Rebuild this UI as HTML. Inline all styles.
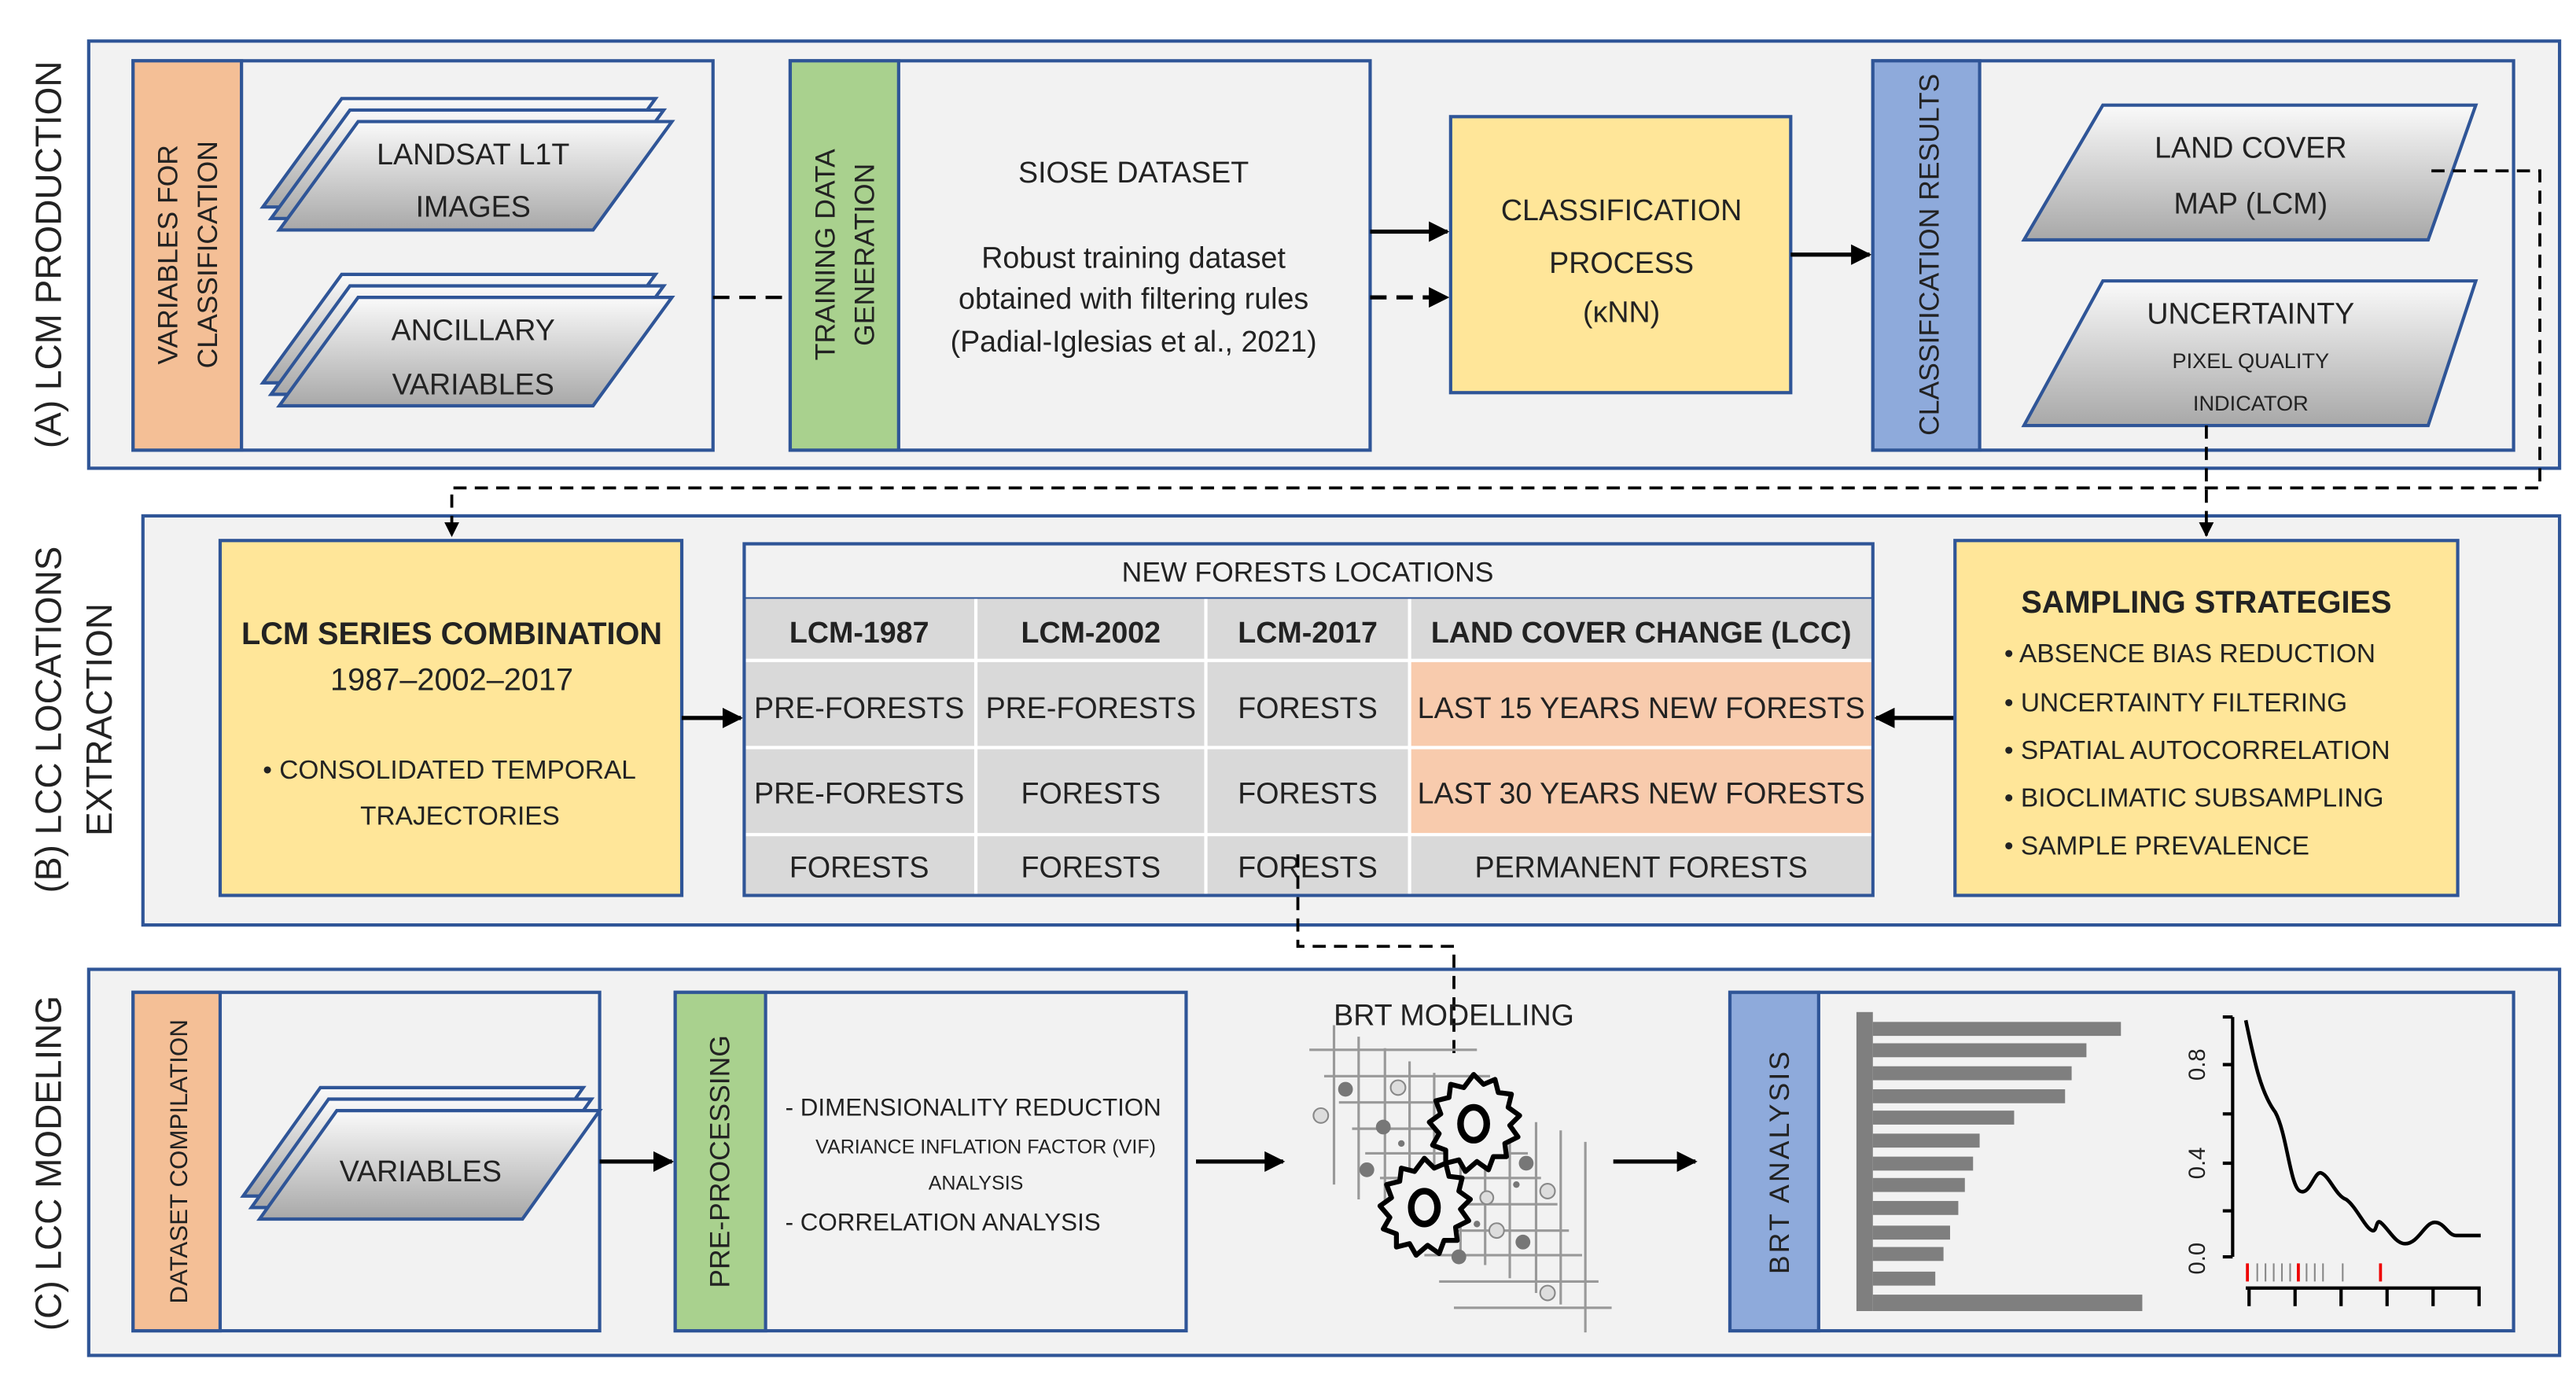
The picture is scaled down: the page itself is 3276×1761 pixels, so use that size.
<!DOCTYPE html>
<html><head><meta charset="utf-8"><style>
html,body{margin:0;padding:0;background:#fff;}
svg{display:block;}
text{font-family:"Liberation Sans Narrow","Liberation Sans",sans-serif;fill:#222;}
.w{font-family:"Liberation Sans",sans-serif;}
</style></head><body>
<svg width="3276" height="1761" viewBox="0 0 1568 843" preserveAspectRatio="none" xmlns="http://www.w3.org/2000/svg">
<defs>
<linearGradient id="g" x1="0" y1="0" x2="0" y2="1"><stop offset="0" stop-color="#fafafa"/><stop offset="1" stop-color="#a8a8a8"/></linearGradient>
<marker id="ar" viewBox="0 0 10 10" refX="9" refY="5" markerWidth="5" markerHeight="5" orient="auto"><path d="M0,0L10,5L0,10z" fill="#000"/></marker>
<g id="para"><path d="M48,0H239L191,66H0Z" fill="url(#g)" stroke="#2f5597" stroke-width="2"/></g>
<g id="vpara"><path d="M47,0H207L160,66H0Z" fill="url(#g)" stroke="#2f5597" stroke-width="2"/></g>
<g id="gear"><path d="M0,-30 L6,-24 L13,-27 L15,-19 L23,-18 L21,-10 L28,-5 L22,1 L27,8 L19,12 L20,20 L12,20 L9,28 L2,23 L-5,29 L-9,22 L-17,24 L-17,16 L-25,13 L-21,6 L-27,-1 L-20,-6 L-23,-14 L-15,-16 L-14,-24 L-6,-22 Z" fill="#f2f2f2" stroke="#000" stroke-width="3" stroke-linejoin="round"/><ellipse cx="0" cy="0" rx="8" ry="10" fill="none" stroke="#000" stroke-width="4"/></g>
</defs>
<rect width="1568" height="843" fill="#fff"/>
<!-- section A -->
<rect x="54" y="25" width="1504" height="260" fill="#f2f2f2" stroke="#2f5597" stroke-width="2"/>
<text class="w" transform="translate(37,155) rotate(-90)" text-anchor="middle" font-size="22">(A) LCM PRODUCTION</text>
<rect x="81" y="37" width="353" height="237" fill="#f2f2f2" stroke="#2f5597" stroke-width="2"/>
<rect x="81" y="37" width="66" height="237" fill="#f4bf96" stroke="#2f5597" stroke-width="2"/>
<text class="w" transform="translate(108,155) rotate(-90)" text-anchor="middle" font-size="17">VARIABLES FOR</text>
<text class="w" transform="translate(132,155) rotate(-90)" text-anchor="middle" font-size="17">CLASSIFICATION</text>
<use href="#para" transform="translate(160,60)"/><use href="#para" transform="translate(165,67)"/><use href="#para" transform="translate(170,74)"/>
<text x="288" y="100" text-anchor="middle" font-size="18">LANDSAT L1T</text>
<text x="288" y="132" text-anchor="middle" font-size="18">IMAGES</text>
<use href="#para" transform="translate(160,167)"/><use href="#para" transform="translate(165,174)"/><use href="#para" transform="translate(170,181)"/>
<text x="288" y="207" text-anchor="middle" font-size="18">ANCILLARY</text>
<text x="288" y="240" text-anchor="middle" font-size="18">VARIABLES</text>
<line x1="434" y1="181" x2="480" y2="181" stroke="#000" stroke-width="2" stroke-dasharray="10,6"/>
<rect x="481" y="37" width="353" height="237" fill="#f2f2f2" stroke="#2f5597" stroke-width="2"/>
<rect x="481" y="37" width="66" height="237" fill="#a9d18e" stroke="#2f5597" stroke-width="2"/>
<text class="w" transform="translate(508,155) rotate(-90)" text-anchor="middle" font-size="17">TRAINING DATA</text>
<text class="w" transform="translate(532,155) rotate(-90)" text-anchor="middle" font-size="17">GENERATION</text>
<text x="690" y="111" text-anchor="middle" font-size="18">SIOSE DATASET</text>
<text x="690" y="163" text-anchor="middle" font-size="18">Robust training dataset</text>
<text x="690" y="188" text-anchor="middle" font-size="18">obtained with filtering rules</text>
<text x="690" y="214" text-anchor="middle" font-size="18">(Padial-Iglesias et al., 2021)</text>
<line x1="834" y1="141" x2="881" y2="141" stroke="#000" stroke-width="2.5" marker-end="url(#ar)"/>
<line x1="834" y1="181" x2="881" y2="181" stroke="#000" stroke-width="2.5" stroke-dasharray="10,6" marker-end="url(#ar)"/>
<rect x="883" y="71" width="207" height="168" fill="#ffe699" stroke="#2f5597" stroke-width="2"/>
<text x="987" y="134" text-anchor="middle" font-size="18">CLASSIFICATION</text>
<text x="987" y="166" text-anchor="middle" font-size="18">PROCESS</text>
<text x="987" y="196" text-anchor="middle" font-size="18">(κNN)</text>
<line x1="1090" y1="155" x2="1138" y2="155" stroke="#000" stroke-width="2.5" marker-end="url(#ar)"/>
<rect x="1140" y="37" width="390" height="237" fill="#f2f2f2" stroke="#2f5597" stroke-width="2"/>
<rect x="1140" y="37" width="65" height="237" fill="#8eaadb" stroke="#2f5597" stroke-width="2"/>
<text class="w" transform="translate(1180,155) rotate(-90)" text-anchor="middle" font-size="17">CLASSIFICATION RESULTS</text>
<path d="M1280,64H1507L1478,146H1232Z" fill="url(#g)" stroke="#2f5597" stroke-width="2"/>
<text x="1370" y="96" text-anchor="middle" font-size="18">LAND COVER</text>
<text x="1370" y="130" text-anchor="middle" font-size="18">MAP (LCM)</text>
<path d="M1280,171H1507L1478,259H1232Z" fill="url(#g)" stroke="#2f5597" stroke-width="2"/>
<text x="1370" y="197" text-anchor="middle" font-size="18">UNCERTAINTY</text>
<text x="1370" y="224" text-anchor="middle" font-size="13">PIXEL QUALITY</text>
<text x="1370" y="250" text-anchor="middle" font-size="13">INDICATOR</text>
<!-- section B -->
<rect x="87" y="314" width="1471" height="249" fill="#f2f2f2" stroke="#2f5597" stroke-width="2"/>
<path d="M1480,104H1546V297H275V326" fill="none" stroke="#000" stroke-width="1.8" stroke-dasharray="8,5" marker-end="url(#ar)"/>
<path d="M1343,259V326" fill="none" stroke="#000" stroke-width="1.8" stroke-dasharray="8,5" marker-end="url(#ar)"/>
<text class="w" transform="translate(37,438) rotate(-90)" text-anchor="middle" font-size="22">(B) LCC LOCATIONS</text>
<text class="w" transform="translate(68,438) rotate(-90)" text-anchor="middle" font-size="22">EXTRACTION</text>
<rect x="134" y="329" width="281" height="216" fill="#ffe699" stroke="#2f5597" stroke-width="2"/>
<text x="275" y="392" text-anchor="middle" font-size="19" font-weight="bold">LCM SERIES COMBINATION</text>
<text x="275" y="420" text-anchor="middle" font-size="19">1987–2002–2017</text>
<text x="160" y="474" font-size="16">•  CONSOLIDATED TEMPORAL</text>
<text x="280" y="502" text-anchor="middle" font-size="16">TRAJECTORIES</text>
<line x1="415" y1="437" x2="451" y2="437" stroke="#000" stroke-width="2.5" marker-end="url(#ar)"/>
<rect x="453" y="331" width="687" height="214" fill="#f2f2f2" stroke="#2f5597" stroke-width="2"/>
<rect x="454" y="364" width="685" height="180" fill="#d9d9d9"/>
<rect x="858" y="402" width="281" height="106" fill="#f8cbad"/>
<g stroke="#fff" stroke-width="2"><line x1="454" y1="402" x2="1139" y2="402"/><line x1="454" y1="455" x2="1139" y2="455"/><line x1="454" y1="508" x2="1139" y2="508"/><line x1="594" y1="364" x2="594" y2="544"/><line x1="734" y1="364" x2="734" y2="544"/><line x1="858" y1="364" x2="858" y2="544"/></g>
<line x1="453" y1="364" x2="1140" y2="364" stroke="#2f5597" stroke-width="1"/>
<text x="796" y="354" text-anchor="middle" font-size="17">NEW FORESTS LOCATIONS</text>
<g font-size="18" text-anchor="middle">
<text x="523" y="391" font-weight="bold">LCM-1987</text><text x="664" y="391" font-weight="bold">LCM-2002</text><text x="796" y="391" font-weight="bold">LCM-2017</text><text x="999" y="391" font-weight="bold">LAND COVER CHANGE (LCC)</text>
<text x="523" y="437">PRE-FORESTS</text><text x="664" y="437">PRE-FORESTS</text><text x="796" y="437">FORESTS</text><text x="999" y="437">LAST 15 YEARS NEW FORESTS</text>
<text x="523" y="489">PRE-FORESTS</text><text x="664" y="489">FORESTS</text><text x="796" y="489">FORESTS</text><text x="999" y="489">LAST 30 YEARS NEW FORESTS</text>
<text x="523" y="534">FORESTS</text><text x="664" y="534">FORESTS</text><text x="796" y="534">FORESTS</text><text x="999" y="534">PERMANENT FORESTS</text>
</g>
<line x1="1190" y1="437" x2="1142" y2="437" stroke="#000" stroke-width="2.5" marker-end="url(#ar)"/>
<rect x="1190" y="329" width="306" height="216" fill="#ffe699" stroke="#2f5597" stroke-width="2"/>
<text x="1343" y="373" text-anchor="middle" font-size="19" font-weight="bold">SAMPLING STRATEGIES</text>
<g font-size="16"><text x="1220" y="403">•  ABSENCE BIAS REDUCTION</text><text x="1220" y="433">•  UNCERTAINTY FILTERING</text><text x="1220" y="462">•  SPATIAL AUTOCORRELATION</text><text x="1220" y="491">•  BIOCLIMATIC SUBSAMPLING</text><text x="1220" y="520">•  SAMPLE PREVALENCE</text></g>
<!-- section C -->
<rect x="54" y="590" width="1504" height="235" fill="#f2f2f2" stroke="#2f5597" stroke-width="2"/>
<path d="M790,520V576H885V646" fill="none" stroke="#000" stroke-width="1.8" stroke-dasharray="8,5"/>
<text class="w" transform="translate(37,708) rotate(-90)" text-anchor="middle" font-size="22">(C) LCC MODELING</text>
<rect x="81" y="604" width="284" height="206" fill="#f2f2f2" stroke="#2f5597" stroke-width="2"/>
<rect x="81" y="604" width="53" height="206" fill="#f4bf96" stroke="#2f5597" stroke-width="2"/>
<text class="w" transform="translate(114,707) rotate(-90)" text-anchor="middle" font-size="15">DATASET COMPILATION</text>
<use href="#vpara" transform="translate(148,662)"/><use href="#vpara" transform="translate(153,669)"/><use href="#vpara" transform="translate(158,676)"/>
<text x="256" y="719" text-anchor="middle" font-size="18">VARIABLES</text>
<line x1="365" y1="707" x2="409" y2="707" stroke="#000" stroke-width="2.5" marker-end="url(#ar)"/>
<rect x="411" y="604" width="311" height="206" fill="#f2f2f2" stroke="#2f5597" stroke-width="2"/>
<rect x="411" y="604" width="55" height="206" fill="#a9d18e" stroke="#2f5597" stroke-width="2"/>
<text class="w" transform="translate(444,707) rotate(-90)" text-anchor="middle" font-size="17">PRE-PROCESSING</text>
<text x="478" y="679" font-size="15">- DIMENSIONALITY REDUCTION</text>
<text x="600" y="702" text-anchor="middle" font-size="12">VARIANCE INFLATION FACTOR (VIF)</text>
<text x="594" y="724" text-anchor="middle" font-size="12">ANALYSIS</text>
<text x="478" y="749" font-size="15">- CORRELATION ANALYSIS</text>
<line x1="728" y1="707" x2="781" y2="707" stroke="#000" stroke-width="2.5" marker-end="url(#ar)"/>
<text x="885" y="624" text-anchor="middle" font-size="18">BRT MODELLING</text>
<g stroke="#999" stroke-width="1.5">
<line x1="797" y1="639" x2="899" y2="639"/><line x1="806" y1="655" x2="907" y2="655"/><line x1="815" y1="671" x2="915" y2="671"/><line x1="823" y1="687" x2="922" y2="687"/><line x1="831" y1="702" x2="930" y2="702"/><line x1="840" y1="717" x2="938" y2="717"/><line x1="850" y1="733" x2="948" y2="733"/><line x1="858" y1="749" x2="955" y2="749"/><line x1="867" y1="764" x2="963" y2="764"/><line x1="876" y1="780" x2="973" y2="780"/><line x1="885" y1="796" x2="981" y2="796"/>
<line x1="812" y1="624" x2="812" y2="721"/><line x1="827" y1="631" x2="827" y2="730"/><line x1="843" y1="638" x2="843" y2="737"/><line x1="858" y1="646" x2="858" y2="746"/><line x1="873" y1="653" x2="873" y2="754"/><line x1="889" y1="661" x2="889" y2="762"/><line x1="904" y1="668" x2="904" y2="770"/><line x1="919" y1="676" x2="919" y2="778"/><line x1="935" y1="683" x2="935" y2="787"/><line x1="950" y1="688" x2="950" y2="794"/><line x1="965" y1="695" x2="965" y2="811"/>
</g>
<g fill="#777"><circle cx="819" cy="663" r="4.5"/><circle cx="842" cy="686" r="4.5"/><circle cx="832" cy="712" r="4.5"/><circle cx="929" cy="708" r="4.5"/><circle cx="927" cy="756" r="4.5"/><circle cx="888" cy="765" r="4.5"/><circle cx="853" cy="696" r="2"/><circle cx="899" cy="745" r="2"/><circle cx="923" cy="721" r="2"/></g>
<g fill="#ddd" stroke="#888"><circle cx="851" cy="662" r="4.5"/><circle cx="804" cy="679" r="4.5"/><circle cx="942" cy="725" r="4.5"/><circle cx="911" cy="749" r="4.5"/><circle cx="942" cy="787" r="4.5"/><circle cx="905" cy="729" r="4"/></g>
<use href="#gear" transform="translate(897,684)"/>
<use href="#gear" transform="translate(867,735)"/>
<line x1="982" y1="707" x2="1032" y2="707" stroke="#000" stroke-width="2.5" marker-end="url(#ar)"/>
<rect x="1053" y="604" width="477" height="206" fill="#f2f2f2" stroke="#2f5597" stroke-width="2"/>
<rect x="1053" y="604" width="54" height="206" fill="#8eaadb" stroke="#2f5597" stroke-width="2"/>
<text class="w" transform="translate(1089,707) rotate(-90)" text-anchor="middle" font-size="17" letter-spacing="1.5">BRT ANALYSIS</text>
<g fill="#7f7f7f">
<rect x="1130" y="616" width="10" height="182"/>
<rect x="1140" y="622" width="151" height="8.5"/><rect x="1140" y="635" width="130" height="8.5"/><rect x="1140" y="649" width="121" height="8.5"/><rect x="1140" y="663" width="117" height="8.5"/><rect x="1140" y="676" width="86" height="8.5"/><rect x="1140" y="690" width="65" height="8.5"/><rect x="1140" y="704" width="61" height="8.5"/><rect x="1140" y="717" width="56" height="8.5"/><rect x="1140" y="731" width="52" height="8.5"/><rect x="1140" y="746" width="47" height="8.5"/><rect x="1140" y="759" width="43" height="8.5"/><rect x="1140" y="774" width="38" height="8.5"/><rect x="1140" y="788" width="164" height="10"/>
</g>
<g stroke="#000" stroke-width="2" fill="none">
<path d="M1359,619V765"/><path d="M1353,619H1359M1353,648H1359M1353,678H1359M1353,708H1359M1353,737H1359M1353,765H1359"/>
<path d="M1367,621C1372,645 1376,665 1385,677C1392,690 1394,722 1400,725C1406,728 1409,712 1413,714C1418,716 1422,728 1428,730C1434,734 1440,748 1444,749C1447,750 1446,742 1449,744C1454,748 1458,757 1464,757C1472,757 1476,744 1482,744C1488,744 1490,752 1495,752H1510" stroke-width="2.2"/>
<path d="M1367,784H1510M1369,784V795M1397,784V795M1425,784V795M1453,784V795M1481,784V795M1509,784V795"/>
</g>
<g stroke="#888" stroke-width="1"><path d="M1374,769V780M1379,769V780M1384,769V780M1389,769V780M1394,769V780M1404,769V780M1409,769V780M1414,769V780M1426,769V780"/></g>
<g stroke="#e00" stroke-width="1.8"><path d="M1368,769V780M1399,769V780M1449,769V780"/></g>
<g class="w" font-size="14"><text transform="translate(1342,648) rotate(-90)" text-anchor="middle">0.8</text><text transform="translate(1342,708) rotate(-90)" text-anchor="middle">0.4</text><text transform="translate(1342,766) rotate(-90)" text-anchor="middle">0.0</text></g>
</svg>
</body></html>
